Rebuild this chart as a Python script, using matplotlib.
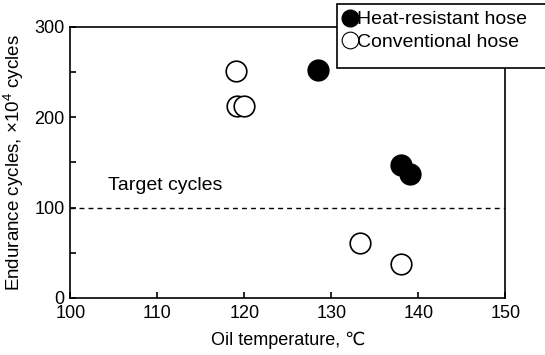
import matplotlib
matplotlib.use("Agg")
import matplotlib.pyplot as plt
from matplotlib.lines import Line2D
from matplotlib.patches import Rectangle

plt.rcParams['font.family'] = ['Liberation Sans', 'DejaVu Sans']
plt.rcParams['mathtext.fontset'] = 'custom'
plt.rcParams['mathtext.rm'] = 'Liberation Sans'
plt.rcParams['mathtext.it'] = 'Liberation Sans'

# data
heat_temp = [128.5, 138.0, 139.0]
heat_cycles = [252, 147, 137]
conv_temp = [119.0, 119.2, 120.0, 133.3, 138.0]
conv_cycles = [251, 212, 213, 61, 38]
target = 100
x_ticks = [100, 110, 120, 130, 140, 150]
y_ticks = [0, 50, 100, 150, 200, 250, 300]
y_labels = ['0', '', '100', '', '200', '', '300']

W, H = 545, 355
fig = plt.figure(figsize=(W / 100, H / 100), dpi=100)
ax = fig.add_axes([0.129, 0.161, 0.798, 0.763])

ax.axhline(target, color='black', lw=1, ls=(0, (3.5, 3)), zorder=1)
ax.text(104.3, 124, 'Target cycles', fontsize=14, va='center', ha='left')

ax.scatter(conv_temp, conv_cycles, s=220, facecolors='white', edgecolors='black', linewidths=1.2, zorder=3)
ax.scatter(heat_temp, heat_cycles, s=220, facecolors='black', edgecolors='black', linewidths=1.2, zorder=3)

ax.set_xlim(100, 150)
ax.set_ylim(0, 300)
ax.set_xticks(x_ticks)
ax.set_yticks(y_ticks)
ax.set_yticklabels(y_labels)
ax.tick_params(direction='in', length=4, width=1.2, labelsize=13)
ax.tick_params(axis='x', pad=5)
ax.tick_params(axis='y', pad=4)
for s in ax.spines.values():
    s.set_linewidth(1.2)

ax.set_xlabel('Oil temperature, \u2103', fontsize=13, labelpad=7)
ax.set_ylabel(r'Endurance cycles, $\times$10$^4$ cycles', fontsize=13.5, labelpad=6)

# legend box runs off the right edge like the reference
fig.patches.append(Rectangle((337 / W, 1 - 68 / H), 220 / W, 64 / H, transform=fig.transFigure,
                             facecolor='white', edgecolor='black', lw=1.2, zorder=4))

handles = [
    Line2D([], [], marker='o', ls='none', ms=12, mfc='black', mec='black', mew=1),
    Line2D([], [], marker='o', ls='none', ms=12, mfc='white', mec='black', mew=0.8),
]
leg = fig.legend(handles, ['Heat-resistant hose', 'Conventional hose'],
                 loc='upper left', bbox_to_anchor=(338 / W, 1 - 7 / H),
                 fontsize=14, frameon=False, handlelength=0.8, handletextpad=0.0,
                 borderpad=0.2, labelspacing=0.25, borderaxespad=0)
leg.set_zorder(5)

fig.savefig('out.png', dpi=100)
